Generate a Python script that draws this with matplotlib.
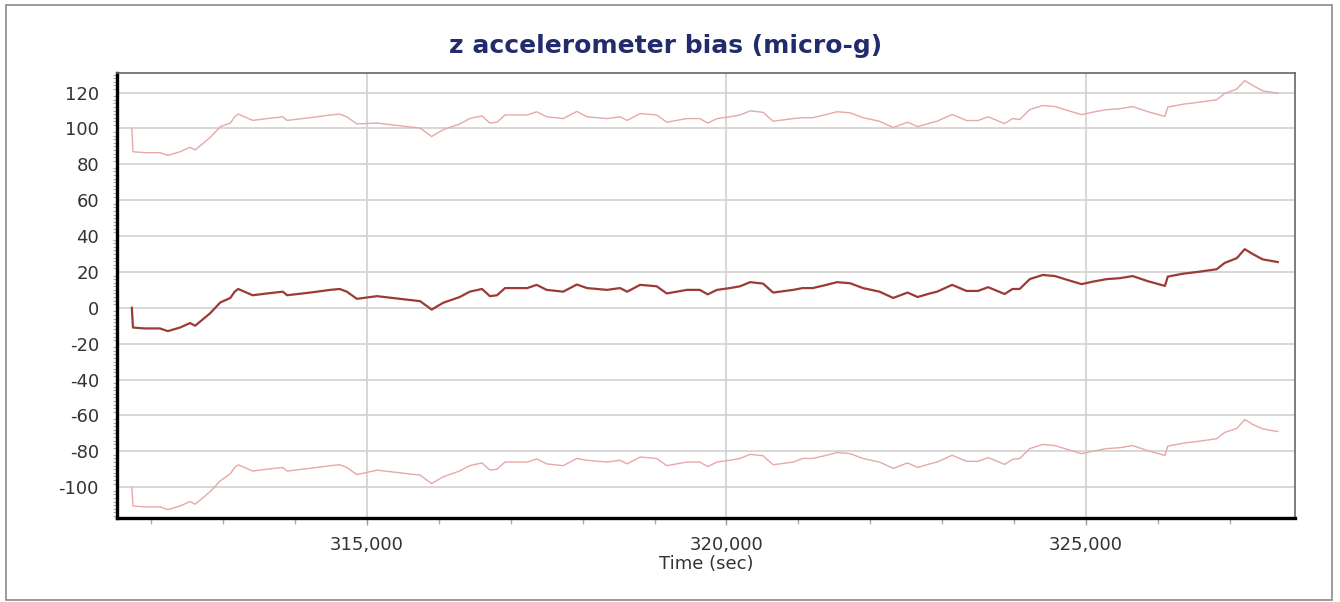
import matplotlib
matplotlib.use("Agg")
import matplotlib.pyplot as plt
from matplotlib.ticker import MultipleLocator, FuncFormatter
from matplotlib.patches import Rectangle

plt.rcParams['axes.unicode_minus'] = False

# time stamps (sec)
time_sec = [311730, 311745, 311910, 312120, 312230, 312400, 312540, 312610, 312820, 312960,
            313100, 313160, 313210, 313410, 313610, 313830, 313890, 314210, 314490, 314620,
            314720, 314860, 315140, 315460, 315740, 315900, 316060, 316290, 316430, 316600,
            316710, 316810, 316920, 317230, 317360, 317500, 317730, 317920, 318060, 318340,
            318520, 318620, 318800, 319030, 319170, 319450, 319630, 319740, 319870, 320050,
            320190, 320330, 320510, 320650, 320930, 321060, 321200, 321340, 321540, 321720,
            321900, 322130, 322320, 322520, 322660, 322830, 322930, 323140, 323340, 323500,
            323640, 323870, 323980, 324080, 324220, 324400, 324570, 324740, 324940, 325100,
            325290, 325470, 325650, 325850, 326100, 326140, 326350, 326590, 326820, 326930,
            327100, 327210, 327320, 327460, 327670]

bias = [0, -11, -11.5, -11.5, -13, -11, -8.5, -10, -3, 3,
        5.5, 9, 10.5, 7, 8, 9, 7, 8.5, 10, 10.5,
        9, 5, 6.5, 5, 3.7, -1, 2.8, 6, 9, 10.5,
        6.5, 7, 11, 11, 12.8, 10, 9, 13, 11, 10,
        11, 9, 12.8, 12, 8, 10, 10, 7.5, 10, 11,
        12, 14.3, 13.5, 8.5, 10, 11, 11, 12.3, 14.3, 13.7,
        11, 9, 5.5, 8.5, 6, 8, 9, 12.8, 9.4, 9.4,
        11.5, 7.7, 10.5, 10.5, 16, 18.3, 17.7, 15.6, 13.2, 14.6,
        16, 16.5, 17.7, 15, 12.2, 17.4, 19, 20.2, 21.5, 25,
        27.7, 32.7, 30, 27, 25.5]

upper = [100, 87, 86.5, 86.5, 85, 87, 89.5, 88, 95, 101,
         103, 106.5, 108, 104.5, 105.5, 106.5, 104.5, 106, 107.5, 108,
         106.5, 102.5, 103, 101.5, 100.2, 95.5, 99.3, 102.5, 105.5, 107,
         103, 103.5, 107.5, 107.5, 109.3, 106.5, 105.5, 109.5, 106.5, 105.5,
         106.5, 104.5, 108.3, 107.5, 103.5, 105.5, 105.5, 103, 105.5, 106.5,
         107.5, 109.8, 109, 104, 105.5, 106, 106, 107.3, 109.3, 108.7,
         106, 104, 100.5, 103.5, 101, 103, 104, 107.8, 104.4, 104.4,
         106.5, 102.7, 105.5, 105, 110.5, 112.8, 112.2, 110.1, 107.7, 109.1,
         110.5, 111, 112.2, 109.5, 106.7, 111.9, 113.5, 114.7, 116, 119.5,
         122, 126.7, 124, 121, 119.6]

lower = [-100, -110.5, -111, -111, -112.5, -110.5, -108, -109.5, -102.5, -96.5,
         -92.5, -89, -87.5, -91, -90, -89, -91, -89.5, -88, -87.5,
         -89, -93, -90.5, -92, -93.3, -98, -94.2, -91, -88, -86.5,
         -90.5, -90, -86, -86, -84.2, -87, -88, -84, -85, -86,
         -85, -87, -83.2, -84, -88, -86, -86, -88.5, -86, -85,
         -84, -81.7, -82.5, -87.5, -86, -84, -84, -82.7, -80.7, -81.3,
         -84, -86, -89.5, -86.5, -89, -87, -86, -82.2, -85.6, -85.6,
         -83.5, -87.3, -84.5, -84, -78.5, -76.2, -76.8, -78.9, -81.3, -79.9,
         -78.5, -78, -76.8, -79.5, -82.3, -77.1, -75.5, -74.3, -73, -69.5,
         -67.3, -62.3, -65, -67.5, -69]

y_ticks = list(range(-100, 121, 20))


def plot():
    fig = plt.figure(figsize=(13.4, 6.02), dpi=100)
    fig.patches.append(Rectangle((0.0045, 0.003), 0.9896, 0.988, transform=fig.transFigure,
                                 fill=False, edgecolor='#8a8a8a', linewidth=1.2))
    ax = fig.add_axes([0.0873, 0.1395, 0.879, 0.7392])

    ax.plot(time_sec, upper, color='#e6a8a8', linewidth=1.0, zorder=3)
    ax.plot(time_sec, lower, color='#e6a8a8', linewidth=1.0, zorder=3)
    ax.plot(time_sec, bias, color='#9c3a35', linewidth=1.6, zorder=4)

    ax.set_xlim(311523, 327907)
    ax.set_ylim(-117.2, 130.9)

    ax.set_yticks(y_ticks)
    ax.yaxis.set_minor_locator(MultipleLocator(2))
    ax.xaxis.set_major_locator(MultipleLocator(5000))
    ax.xaxis.set_minor_locator(MultipleLocator(1000))
    ax.xaxis.set_major_formatter(FuncFormatter(lambda v, p: '{:,.0f}'.format(v)))

    ax.tick_params(axis='y', which='major', length=0, pad=13, labelsize=13, labelcolor='#333333')
    ax.tick_params(axis='y', which='minor', length=3, width=0.8, color='#aaaaaa')
    ax.tick_params(axis='x', which='major', length=5, width=1, color='#999999',
                   pad=8, labelsize=13, labelcolor='#333333')
    ax.tick_params(axis='x', which='minor', length=4, width=1, color='#aaaaaa')

    ax.grid(True, which='major', color='#d4d4d4', linewidth=1.3, zorder=0)
    ax.set_axisbelow(True)

    ax.spines['left'].set_linewidth(2.4)
    ax.spines['left'].set_color('black')
    ax.spines['bottom'].set_linewidth(2.4)
    ax.spines['bottom'].set_color('black')
    ax.spines['top'].set_linewidth(1.2)
    ax.spines['top'].set_color('#666666')
    ax.spines['right'].set_linewidth(1.2)
    ax.spines['right'].set_color('#666666')

    ax.set_xlabel('Time (sec)', fontsize=13, color='#333333', labelpad=1)
    fig.text(0.497, 1 - 46 / 602, 'z accelerometer bias (micro-g)', ha='center', va='center',
             fontsize=18, fontweight='bold', color='#222c6c')

    plt.savefig('out.png', dpi=100)


if __name__ == '__main__':
    plot()
